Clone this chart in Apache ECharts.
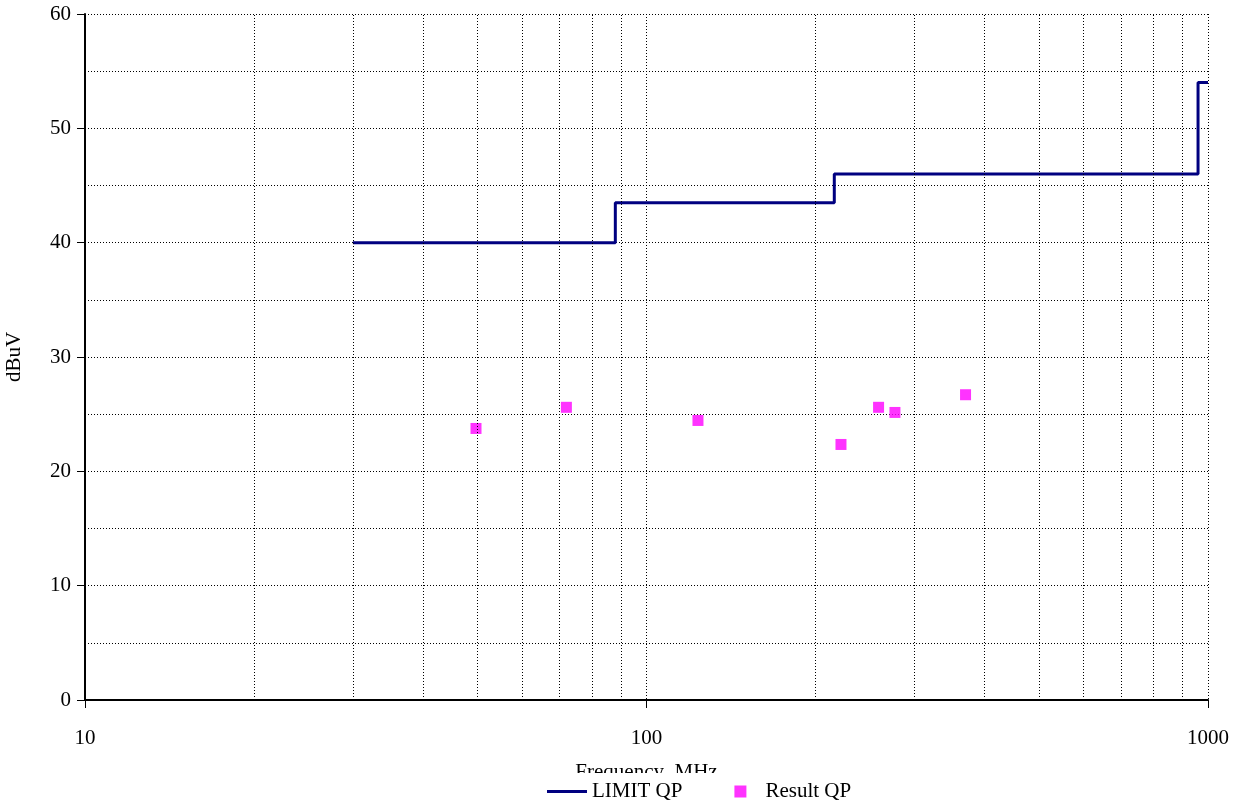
<!DOCTYPE html>
<html>
<head>
<meta charset="utf-8">
<script src="https://cdn.jsdelivr.net/npm/echarts@6/dist/echarts.min.js"></script>
<style>html,body{margin:0;padding:0;background:#fff}#c{width:1248px;height:805px}</style>
</head>
<body>
<div id="c"></div>
<script>
var limitFreq = [30, 88, 88, 216, 216, 960, 960, 1000];
var limitLevel = [40, 40, 43.5, 43.5, 46, 46, 54, 54];
var resultFreq = [49.7, 72.0, 123.5, 222, 259, 277, 370];
var resultLevel = [23.75, 25.6, 24.45, 22.35, 25.6, 25.15, 26.7];
var minorGridFreq = [20, 30, 40, 50, 60, 70, 80, 90, 200, 300, 400, 500, 600, 700, 800, 900];
var xTickLabels = ['10', '100', '1000'];

var font = 'Liberation Serif';
var fs = 21;
var chart = echarts.init(document.getElementById('c'), null, {renderer: 'canvas'});
var dotted = {color: '#000', width: 1, type: [1, 2]};

chart.setOption({
  animation: false,
  backgroundColor: '#fff',
  textStyle: {fontFamily: font},
  grid: {left: 85, right: 40, top: 14, bottom: 105, containLabel: false, outerBoundsMode: 'none'},
  xAxis: {
    type: 'log', logBase: 10, min: 10, max: 1000,
    name: 'Frequency  MHz', nameLocation: 'middle', nameGap: 62,
    nameTextStyle: {fontFamily: font, fontSize: fs, color: '#000'},
    axisLine: {show: true, onZero: false, lineStyle: {color: '#000', width: 2}},
    axisTick: {show: true, length: 8, lineStyle: {color: '#000', width: 1}},
    axisLabel: {fontFamily: font, fontSize: fs, color: '#000', margin: 28,
      formatter: function (v) { var s = String(Math.round(v)); return xTickLabels.indexOf(s) >= 0 ? s : ''; }},
    splitLine: {show: true, lineStyle: dotted}
  },
  yAxis: {
    type: 'value', min: 0, max: 60, interval: 10,
    name: 'dBuV', nameLocation: 'middle', nameGap: 60, nameRotate: 90,
    nameTextStyle: {fontFamily: font, fontSize: fs, color: '#000'},
    axisLine: {show: true, lineStyle: {color: '#000', width: 2}},
    axisTick: {show: true, length: 8, lineStyle: {color: '#000', width: 1}},
    axisLabel: {fontFamily: font, fontSize: fs, color: '#000', margin: 14},
    splitLine: {show: true, lineStyle: dotted},
    minorTick: {show: false, splitNumber: 2},
    minorSplitLine: {show: true, lineStyle: dotted}
  },
  legend: {
    left: 547, top: 773, itemGap: 52, itemWidth: 40, itemHeight: 12,
    backgroundColor: '#fff', padding: [8, 6, 6, 0],
    textStyle: {fontFamily: font, fontSize: fs, color: '#000'},
    data: [
      {name: 'LIMIT QP', icon: 'path://M0,0H40V3H0Z'},
      {name: 'Result QP', icon: 'path://M0,0H10V10H0Z'}
    ]
  },
  series: [
    {
      name: 'grid', type: 'line', data: [], silent: true,
      markLine: {silent: true, symbol: 'none', label: {show: false},
        lineStyle: dotted, emphasis: {disabled: true},
        data: minorGridFreq.map(function (f) { return {xAxis: f}; })}
    },
    {
      name: 'LIMIT QP', type: 'line', showSymbol: false, symbol: 'none',
      lineStyle: {color: '#000080', width: 3}, itemStyle: {color: '#000080'},
      data: limitFreq.map(function (f, i) { return [f, limitLevel[i]]; }), z: 3
    },
    {
      name: 'Result QP', type: 'scatter', symbol: 'rect', symbolSize: 11,
      itemStyle: {color: '#ff00ff'},
      data: resultFreq.map(function (f, i) { return [f, resultLevel[i]]; }), z: 4
    }
  ]
});
</script>
</body>
</html>
